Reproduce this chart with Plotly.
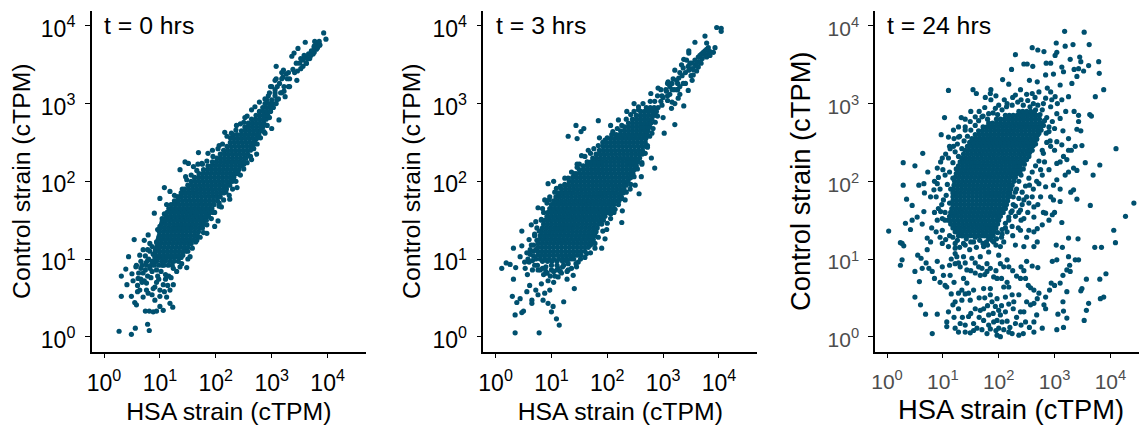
import plotly.graph_objects as go

# All positions are log10(cTPM) x 100.
# *_pts: individually readable points (HSA, Control).
# *_core: the saturated mass, where single points cannot be told apart. These are
# hand-placed estimates that cover the solid area: (Control, [HSA, ...]) per row.

tick_vals = [1, 10, 100, 1000, 10000]
tick_text = ["10<sup>0</sup>", "10<sup>1</sup>", "10<sup>2</sup>", "10<sup>3</sup>", "10<sup>4</sup>"]
panel_labels = ["t = 0 hrs", "t = 3 hrs", "t = 24 hrs"]
x_title = "HSA strain (cTPM)"
y_title = "Control strain (cTPM)"

t0_pts = [(27,7),(49,3),(56,11),(78,16),(81,8),(31,52),(41,67),(31,78),(39,87),(44,103),(54,125),(49,52),(50,81),(52,72),(55,44),(58,41),(74,33),(81,33),(88,32),(94,33),(100,39),(106,34),(118,43),(123,38),(91,47),(70,51),(79,56),(64,60),(112,51),(118,60),(124,67),(106,67),(91,64),(76,69),(61,75),(57,90),(64,105),(72,124),(79,131),(90,159),(100,178),(108,192),(118,187),(136,215),(145,225),(151,223),(160,219),(169,237),(175,223),(195,232),(216,263),(231,260),(237,272),(273,235),(264,228),(240,210),(238,192),(225,177),(210,167),(204,149),(198,142),(184,133),(154,103),(148,89),(139,94),(313,279),(291,285),(324,309),(321,343),(336,361),(347,371),(360,379),(377,380),(393,391),(397,383),(386,375),(66,88),(84,76),(70,82),(98,74),(110,80),(100,60),(86,54),(60,66),(75,95),(66,97),(92,112),(82,120),(96,138),(104,152),(112,170),(126,182),(146,206),(166,214),(184,226),(206,246),(226,256),(252,282),(270,250),(250,222),(232,206),(218,186),(206,172),(196,160),(176,140),(164,122),(150,110),(300,268),(288,262),(306,318),(330,322),(345,330),(362,352),(376,366),(308,348),(340,365),
(108,158),(104,148),(98,128),(100,142),(94,122),(88,106),(96,116),(90,96),(84,92),(78,98),(74,86),(68,92),(126,172),(132,180),(140,190),(148,202),(156,208),(168,222),(176,222),(186,236),(194,240),(204,242),(212,248),(220,258),(228,262),(236,266),(244,274),(250,276),(256,284),(264,292),(270,296),(278,302),
(150,100),(158,114),(166,124),(172,128),(178,134),(184,144),(192,152),(198,160),(206,168),(214,176),(224,182),(230,190),(236,200),(244,208),(250,216),(256,224),(262,232),(268,242),(274,248),(280,256),(286,264),(292,272),(296,282),
(350,352),(356,356),(361,360),(366,364),(371,368),(376,372),(381,376),(385,380),(356,348),(362,352),(368,358),(374,364),(380,370),(386,376),(352,345),(346,342),
(72,72),(78,78),(86,84),(94,86),(102,84),(110,74),(116,78),(124,88),(130,84),(136,90),(94,70),(88,62),(100,52),(76,60),(68,70),(62,82),(82,88),(74,104),(70,112),(82,110),(86,116),(78,112),(120,76),(114,66),(108,58),(96,78),(104,92),(60,58),(58,92),(66,74),(80,100),(76,92),
(300,322),(306,330),(314,326),(320,334),(326,338),(332,332),(338,344),(344,352),(352,358),(358,362),(364,358),(370,362),(376,374),(382,372),(318,314),(312,306),(300,296),(306,310),(322,316),(294,310),(288,306)]
t0_core = [
(92,[90,98,107,115,122]),
(97,[86,94,103,110,118,125,133]),
(102,[91,98,105,112,119,126,133,138]),
(105,[92,99,106,113,120,127,134,141]),
(110,[92,99,106,113,120,127,134,141,146]),
(115,[94,101,108,115,122,129,136,143,150]),
(120,[95,102,109,116,123,130,137,144,151,156]),
(125,[97,104,111,118,125,132,139,146,153,160]),
(130,[99,106,113,120,127,134,141,148,155,162,167]),
(135,[99,106,113,120,127,134,141,148,155,162,169]),
(140,[101,108,115,122,129,136,143,150,157,164,171,175]),
(145,[103,110,117,124,131,138,145,152,159,166,173,179]),
(150,[107,114,121,128,135,142,149,156,163,170,177,183]),
(155,[111,118,125,132,139,146,153,160,167,174,181,187]),
(160,[113,120,127,134,141,148,155,162,169,176,183,190]),
(165,[116,123,130,137,144,151,158,165,172,179,186,193]),
(170,[120,127,134,141,148,155,162,169,176,183,190,197]),
(175,[126,133,140,147,154,161,168,175,182,189,196,203]),
(180,[132,139,146,153,160,167,174,181,188,195,202,208]),
(185,[138,145,152,159,166,173,180,187,194,201,208,214]),
(190,[144,151,158,165,172,179,186,193,200,207,214,219]),
(195,[150,157,164,171,178,185,192,199,206,213,220,225]),
(200,[156,163,170,177,184,191,198,205,212,219,226,230]),
(205,[162,169,176,183,190,197,204,211,218,225,232]),
(210,[170,177,184,191,198,205,212,219,226,233,238]),
(215,[178,185,192,199,206,213,220,227,234,241]),
(220,[186,193,200,207,214,221,228,235,242,246]),
(225,[194,201,208,215,222,229,236,243,250]),
(230,[202,209,216,223,230,237,244,251,254]),
(235,[208,215,222,229,236,243,250,257]),
(240,[214,221,228,235,242,249,256,262]),
(245,[220,227,234,241,248,255,262,266]),
(250,[226,233,240,247,254,261,268]),
(255,[232,239,246,253,260,267,273]),
(260,[238,245,252,259,266,273,277]),
(265,[246,253,260,267,274,281]),
(270,[252,259,266,273,280,284]),
(275,[258,265,272,279,286]),
(280,[264,271,278,285,290]),
(285,[272,279,286,293]),
(290,[278,285,292,298]),
(295,[284,291,298,303]),
(300,[288,295,302,308]),
(305,[291,300,309]),
(314,[296,306,316]),
(322,[298,310,322,332]),
(332,[308,318,328]),
(340,[318,330,341]),
]

t3_pts = [(35,5),(78,5),(114,15),(109,23),(35,28),(47,31),(50,33),(100,32),(103,39),(122,45),(141,62),(30,52),(38,44),(44,49),(65,47),(65,43),(85,47),(94,43),(76,54),(88,56),(97,60),(56,58),(61,66),(32,74),(36,89),(26,93),(19,95),(11,88),(57,80),(53,88),(44,103),(32,114),(47,117),(47,136),(64,144),(82,151),(76,166),(94,197),(97,180),(109,191),(136,212),(154,233),(130,258),(144,272),(146,255),(153,264),(158,268),(184,278),(220,279),(235,290),(196,253),(208,260),(321,273),(302,262),(285,217),(279,230),(257,184),(261,206),(250,195),(241,190),(227,162),(226,147),(190,114),(178,114),(163,107),(145,90),(139,79),(130,86),(118,82),(112,77),(199,138),(214,164),(337,297),(321,300),(357,379),(375,387),(396,398),(404,397),(404,393),(393,372),(378,378),(346,368),(346,365),(337,357),(333,350),(321,343),(309,328),(291,320),(278,313),(264,300),(256,292),(345,317),(327,307),(315,294),(384,367),(378,360),(363,347),(354,337),(60,96),(68,104),(56,108),(64,118),(60,125),(70,130),(72,148),(84,165),(88,176),(104,200),(124,204),(146,222),(166,240),(186,256),(206,272),(248,300),(268,274),(280,262),(272,246),(262,222),(240,204),(232,176),(206,158),(196,126),(170,118),(152,100),(128,74),(104,70),(82,68),(72,60),(92,82),(66,86),(300,282),(312,312),(330,322),(352,330),(368,352),(286,290),
(72,112),(68,118),(74,124),(70,132),(78,136),(74,140),(82,150),(86,160),(92,172),(96,176),(106,186),(116,194),(124,196),(130,204),(140,210),(146,218),(150,222),(160,232),(170,236),(176,242),(184,246),(192,250),(200,256),(210,264),(218,268),(226,272),(234,280),(242,286),(248,290),(256,296),
(148,96),(160,102),(170,108),(178,120),(184,128),(192,136),(200,146),(206,152),(212,160),(220,170),(226,178),(234,186),(242,196),(248,206),(254,216),(262,224),(268,236),(272,244),(276,258),(282,268),(286,276),(290,284),
(80,86),(90,84),(100,86),(110,86),(120,90),(130,94),(75,92),
(345,348),(351,352),(357,356),(363,360),(369,364),(375,368),(381,372),(352,345),(358,349),(364,354),(370,358),(376,362),(382,366),(340,340),(346,343),(334,336),(328,333),
(84,88),(92,82),(98,78),(104,84),(112,88),(122,92),(128,84),(136,88),(144,94),(76,86),(70,92),(66,98),(62,106),(58,100),(52,96),(68,110),(62,112),(90,90),(100,92),(110,92),(116,84),(106,78),(86,80),(94,72),(72,100),
(300,308),(306,316),(312,322),(318,332),(324,330),(330,340),(336,346),(342,356),(348,352),(354,344),(360,352),(366,362),(372,366),(378,370),(384,362),(390,366),(360,342),(350,336),(340,326),(330,312),(320,318),(308,304),(298,298),(316,302),(326,318)]
t3_core = [
(97,[84,93,101,110,120,128]),
(100,[80,88,96,104,113,120,127,134,140]),
(105,[76,83,90,97,104,111,118,125,132,139,146,153]),
(110,[76,83,90,97,104,111,118,125,132,139,146,153,160]),
(115,[76,83,90,97,104,111,118,125,132,139,146,153,160,166]),
(120,[76,83,90,97,104,111,118,125,132,139,146,153,160,167,172]),
(125,[78,85,92,99,106,113,120,127,134,141,148,155,162,169,175]),
(130,[80,87,94,101,108,115,122,129,136,143,150,157,164,171,178]),
(135,[82,89,96,103,110,117,124,131,138,145,152,159,166,173,180]),
(140,[84,91,98,105,112,119,126,133,140,147,154,161,168,175,182]),
(145,[86,93,100,107,114,121,128,135,142,149,156,163,170,177,184,190]),
(150,[89,96,103,110,117,124,131,138,145,152,159,166,173,180,187,193]),
(155,[92,99,106,113,120,127,134,141,148,155,162,169,176,183,190,196]),
(160,[94,101,108,115,122,129,136,143,150,157,164,171,178,185,192,199,205]),
(165,[97,104,111,118,125,132,139,146,153,160,167,174,181,188,195,202,208]),
(170,[100,107,114,121,128,135,142,149,156,163,170,177,184,191,198,205,212]),
(175,[104,111,118,125,132,139,146,153,160,167,174,181,188,195,202,209,216,221]),
(180,[108,115,122,129,136,143,150,157,164,171,178,185,192,199,206,213,220,225]),
(185,[112,119,126,133,140,147,154,161,168,175,182,189,196,203,210,217,224,228]),
(190,[118,125,132,139,146,153,160,167,174,181,188,195,202,209,216,223,230]),
(195,[124,131,138,145,152,159,166,173,180,187,194,201,208,215,222,229,234]),
(200,[132,139,146,153,160,167,174,181,188,195,202,209,216,223,230,237]),
(205,[138,145,152,159,166,173,180,187,194,201,208,215,222,229,236,242]),
(210,[144,151,158,165,172,179,186,193,200,207,214,221,228,235,242,246]),
(215,[150,157,164,171,178,185,192,199,206,213,220,227,234,241,248]),
(220,[157,164,171,178,185,192,199,206,213,220,227,234,241,248,252]),
(225,[164,171,178,185,192,199,206,213,220,227,234,241,248,255]),
(230,[174,181,188,195,202,209,216,223,230,237,244,251,258]),
(235,[180,187,194,201,208,215,222,229,236,243,250,257,263]),
(240,[186,193,200,207,214,221,228,235,242,249,256,263]),
(245,[192,199,206,213,220,227,234,241,248,255,262,268]),
(250,[198,205,212,219,226,233,240,247,254,261,268]),
(255,[206,213,220,227,234,241,248,255,262,269]),
(260,[216,223,230,237,244,251,258,265,271]),
(265,[224,231,238,245,252,259,266,273]),
(270,[231,238,245,252,259,266,273,276]),
(275,[238,245,252,259,266,273,278]),
(280,[245,252,259,266,273,280]),
(285,[252,259,266,273,280,285]),
(290,[260,267,274,281,288]),
(295,[270,277,284,291]),
(303,[277,285,296]),
(310,[290,298,308]),
(318,[296,305,316,325]),
(326,[308,316,326,336]),
]

t24_pts = [(318,393),(353,392),(303,378),(319,374),(333,376),(362,376),(260,372),(270,369),(281,367),(230,363),(304,366),(301,362),(328,357),(345,360),(347,354),(361,349),(379,354),(380,339),(245,351),(251,351),(261,348),(285,352),(293,352),(223,344),(335,344),(343,345),(352,342),(313,347),(316,341),(298,338),(284,337),(269,328),(255,330),(207,331),(218,325),(110,317),(154,318),(160,313),(186,318),(185,313),(176,308),(186,305),(388,318),(373,309),(363,286),(366,284),(410,242),(381,221),(369,208),(364,169),(442,172),(427,155),(406,137),(409,121),(372,115),(384,115),(392,81),(381,74),(388,51),(382,49),(361,43),(357,34),(353,21),(357,74),(349,62),(347,59),(342,126),(325,127),(313,147),(340,177),(334,189),(329,186),(343,277),(343,285),(340,267),(347,265),(349,246),(355,224),(340,214),(334,217),(325,212),(319,208),(304,202),(298,195),(293,180),(310,174),(298,176),(284,159),(296,157),(278,144),(263,135),(269,139),(254,137),(245,152),(263,154),(303,118),(314,115),(263,116),(269,122),(245,116),(230,118),(224,142),(239,137),(343,99),(337,99),(325,103),(327,92),(322,86),(328,84),(315,79),(304,99),(296,97),(310,69),(300,66),(294,69),(291,60),(322,58),(315,45),(316,33),(306,29),(322,24),(316,12),(304,9),(284,51),(272,56),(263,60),(257,63),(253,66),(248,75),(239,75),(232,78),(250,97),(260,91),(270,89),(263,43),(269,49),(257,41),(281,41),(284,36),(278,11),(263,6),(263,19),(248,19),(244,4),(236,2),(230,17),(224,4),(218,6),(203,0),(197,2),(209,9),(200,11),(206,19),(197,21),(203,28),(212,32),(200,34),(194,39),(188,45),(185,54),(197,49),(212,51),(224,54),(227,45),(226,36),(239,32),(245,32),(236,54),(218,64),(209,64),(185,62),(173,62),(197,75),(191,77),(179,84),(170,88),(167,79),(158,82),(143,86),(137,75),(143,69),(134,60),(128,56),(146,56),(149,47),(134,47),(122,45),(118,41),(110,32),(128,36),(107,19),(107,13),(122,11),(128,6),(131,17),(140,6),(149,5),(146,26),(158,36),(167,34),(173,36),(155,17),(161,11),(170,9),(179,4),(173,21),(182,28),(182,15),(191,19),(81,4),(90,29),(69,29),(60,41),(50,51),(58,71),(50,84),(63,88),(75,88),(81,84),(90,97),(99,90),(101,79),(104,66),(107,64),(113,79),(112,92),(122,94),(131,90),(24,92),(27,99),(61,101),(72,112),(78,122),(72,127),(27,120),(24,121),(30,117),(3,136),(33,146),(42,138),(45,150),(63,145),(54,154),(66,161),(35,177),(45,169),(29,195),(57,195),(66,197),(67,185),(78,180),(84,189),(29,224),(50,220),(64,236),(73,212),(90,217),(99,230),(97,260),(103,282),(110,257),(113,242),(119,266),(133,282),(149,277),(158,283),(170,283),(182,287),(194,294),(215,300),(230,311),(239,318),(260,313),(272,315),(287,320),(301,309),(313,305),(325,309),(340,335),(331,326),(310,324),(293,315),(284,307),(293,296),(304,287),(310,281),(296,277),(290,264),(304,251),(313,247),(293,245),(278,240),(325,240),(337,245),(316,232),(304,223),(290,215),(278,208),(272,197),(260,180),(254,172),(245,176),(239,163),(263,167),(275,180),(284,193),(99,137),(104,150),(96,161),(101,176),(90,197),(104,208),(110,230),(119,245),(128,257),(140,266),(99,152),(99,120),(110,116),(122,114),(137,120),(155,122),(173,116),(191,122),(209,122),(203,116),(137,103),(152,101),(167,103),(182,109),(200,105),(209,90),(218,90),(203,94),(215,99),(179,94),(164,90),(125,103),(122,107),
(110,150),(104,160),(112,172),(106,182),(114,190),(108,196),(118,204),(112,212),(124,216),(118,224),(128,232),(122,238),(134,242),(126,248),(138,252),(130,258),(144,258),(150,266),(140,270),(158,272),(164,278),(172,284),(180,280),(190,288),(198,286),(206,292),(214,296),(224,298),(234,302),(244,298),(252,304),(262,300),(270,298),(278,292),
(118,128),(126,124),(134,130),(142,126),(150,122),(158,128),(166,124),(174,130),(182,126),(190,130),(198,134),(206,138),(212,146),(218,154),(224,162),(230,168),(236,178),(242,186),(248,194),(254,204),(260,212),(266,220),(272,226),(280,236),(286,250),(290,270),(286,282),
(285,262),(292,252),(300,240),(310,225),(282,225),(275,215),(268,200),(262,190),(255,195),(250,180),(242,170),(236,160),(230,155),(240,150),(252,160),(270,170),(280,160),(290,150),(300,160),(310,190),(322,228),(330,240),(300,268),(315,265),(325,255),(335,290),(320,290),(305,300),(295,305),(280,300),(265,308),(250,312),(240,305),(225,308),(210,305),(200,298),(195,310),(175,295),(165,290),(150,290),(140,280),(128,270),(120,255),(112,245),(105,235),(96,225),(100,215),(92,205),(85,200),(95,190),(88,180),(98,170),(92,165),(85,160),(90,150),(80,140),(88,135),(95,128),(105,125),(112,130),(122,120),(130,115),(140,118),(148,112),(160,115),(172,120),(180,118),(195,118),(205,128),(215,135),(225,130),(235,140),(250,128),
(115,100),(128,95),(140,95),(150,85),(158,95),(175,80),(185,88),(195,85),(205,75),(215,70),(225,85),(240,90),(245,85),(140,55),(155,60),(165,50),(175,50),(180,40),(150,30),(135,25),(120,25),(165,25),(190,30),(205,40),(218,42),(232,25),(250,45),(240,15),(255,12),(268,28),(215,20),(220,12),(195,8),(185,10),(155,8),(140,15),(115,55),(120,70),(95,70),(85,75),(70,95),(55,105),
(226,180),(232,190),(236,200),(240,208),(244,216),(250,228),(256,238),(262,246),(268,254),(272,262),(226,170),(222,160),(218,150),(212,140),(206,132),(196,126),(188,124),(178,122),(230,186),(238,212),(246,222),(254,232),(260,240),(266,248),(276,266),(280,272),(282,278),(274,286),(266,292),(256,296)]
t24_core = [
(130,[128,135,142,149,156,163,170,177,184,188]),
(135,[122,129,136,143,150,157,164,171,178,185,192]),
(140,[118,125,132,139,146,153,160,167,174,181,188,195]),
(145,[114,121,128,135,142,149,156,163,170,177,184,191,198]),
(150,[112,119,126,133,140,147,154,161,168,175,182,189,196,200]),
(155,[112,119,126,133,140,147,154,161,168,175,182,189,196,203]),
(160,[114,121,128,135,142,149,156,163,170,177,184,191,198,205,208]),
(165,[116,123,130,137,144,151,158,165,172,179,186,193,200,207,212]),
(170,[118,125,132,139,146,153,160,167,174,181,188,195,202,209,214]),
(175,[118,125,132,139,146,153,160,167,174,181,188,195,202,209,216]),
(180,[118,125,132,139,146,153,160,167,174,181,188,195,202,209,216,218]),
(185,[118,125,132,139,146,153,160,167,174,181,188,195,202,209,216,220]),
(190,[119,126,133,140,147,154,161,168,175,182,189,196,203,210,217,222]),
(195,[120,127,134,141,148,155,162,169,176,183,190,197,204,211,218,224]),
(200,[121,128,135,142,149,156,163,170,177,184,191,198,205,212,219,227]),
(205,[122,129,136,143,150,157,164,171,178,185,192,199,206,213,220,227,230]),
(210,[124,131,138,145,152,159,166,173,180,187,194,201,208,215,222,229,233]),
(215,[126,133,140,147,154,161,168,175,182,189,196,203,210,217,224,231,236]),
(220,[128,135,142,149,156,163,170,177,184,191,198,205,212,219,226,233,238]),
(225,[131,138,145,152,159,166,173,180,187,194,201,208,215,222,229,236,243]),
(230,[134,141,148,155,162,169,176,183,190,197,204,211,218,225,232,239,246]),
(235,[137,144,151,158,165,172,179,186,193,200,207,214,221,228,235,242,249,254]),
(240,[140,147,154,161,168,175,182,189,196,203,210,217,224,231,238,245,252,257]),
(245,[144,151,158,165,172,179,186,193,200,207,214,221,228,235,242,249,256,260]),
(250,[148,155,162,169,176,183,190,197,204,211,218,225,232,239,246,253,260,264]),
(255,[152,159,166,173,180,187,194,201,208,215,222,229,236,243,250,257,264,268]),
(260,[158,165,172,179,186,193,200,207,214,221,228,235,242,249,256,263,270]),
(265,[164,171,178,185,192,199,206,213,220,227,234,241,248,255,262,269,272]),
(270,[172,179,186,193,200,207,214,221,228,235,242,249,256,263,270,274]),
(275,[182,189,196,203,210,217,224,231,238,245,252,259,266,273,275]),
(280,[196,203,210,217,224,231,238,245,252,259,266,273]),
(285,[212,219,226,233,240,247,254,261,268]),
(290,[236,243,250,257,264]),
]

POINT_COLOR = "#00506F"
W, H = 1139, 417          # the page body adds an 8 px margin, so the figure is placed 8 px in
OFFSET = 8
X_DOMAINS = [(91.7, 366), (483.3, 757.3), (875, 1147)]
X_RANGES = [(-0.22, 4.687), (-0.22, 4.687), (-0.215, 4.655)]
Y_RANGE = (-0.193, 4.196)
PLOT_TOP, PLOT_BOTTOM = 10.7, 351.7
TICK_COLORS = ["black", "black", "#4D4D4D"]
TICK_SIZES = [23, 23, 21]
TITLE_SIZES = [24.8, 24.8, 27.3]
X_STANDOFF = [8, 8, 9]
Y_STANDOFF = [5, 5, 9]
FONT = "Liberation Sans, Arial, sans-serif"


def flatten(pts, core):
    xs = [p[0] for p in pts] + [x for y, row in core for x in row]
    ys = [p[1] for p in pts] + [y for y, row in core for x in row]
    return [10 ** (v / 100) for v in xs], [10 ** (v / 100) for v in ys]


fig = go.Figure()
panels = [(t0_pts, t0_core), (t3_pts, t3_core), (t24_pts, t24_core)]
for i, (pts, core) in enumerate(panels):
    n = "" if i == 0 else str(i + 1)
    xv, yv = flatten(pts, core)
    fig.add_trace(go.Scatter(x=xv, y=yv, mode="markers", xaxis="x" + n, yaxis="y" + n,
                             marker=dict(color=POINT_COLOR, size=5.2, line=dict(width=0)),
                             showlegend=False, hoverinfo="skip"))
    common = dict(type="log", tickmode="array", tickvals=tick_vals, ticktext=tick_text,
                  showgrid=False, zeroline=False, showline=True, linecolor="black", linewidth=1.5,
                  ticks="outside", ticklen=5, tickwidth=1.2, tickcolor="black", ticklabelstandoff=5,
                  ticklabeloverflow="allow",
                  tickfont=dict(family=FONT, size=TICK_SIZES[i], color=TICK_COLORS[i]))
    x_ax = dict(common, domain=[(X_DOMAINS[i][0] - OFFSET) / W, (X_DOMAINS[i][1] - OFFSET) / W],
                range=list(X_RANGES[i]), anchor="y" + n,
                title=dict(text=x_title, standoff=X_STANDOFF[i],
                           font=dict(family=FONT, size=TITLE_SIZES[i], color="black")))
    y_ax = dict(common, domain=[(H - (PLOT_BOTTOM - OFFSET)) / H, (H - (PLOT_TOP - OFFSET)) / H],
                range=list(Y_RANGE), anchor="x" + n, ticklabelshift=3,
                title=dict(text=y_title, standoff=Y_STANDOFF[i],
                           font=dict(family=FONT, size=TITLE_SIZES[i], color="black")))
    fig.layout["xaxis" + n] = x_ax
    fig.layout["yaxis" + n] = y_ax
    fig.add_annotation(x=0, y=4, xref="x" + n, yref="y" + n, text=panel_labels[i], showarrow=False,
                       xanchor="left", yanchor="middle", xshift=-2,
                       font=dict(family=FONT, size=24.8, color="black"))

fig.update_layout(width=W, height=H, margin=dict(l=0, r=0, t=0, b=0, pad=0, autoexpand=False),
                  paper_bgcolor="white", plot_bgcolor="white", showlegend=False,
                  font=dict(family=FONT))
fig.write_html("out.html")
